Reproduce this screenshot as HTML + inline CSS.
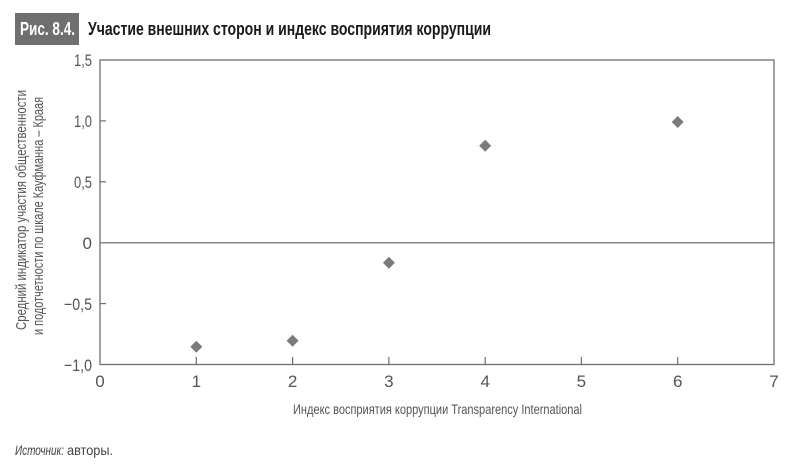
<!DOCTYPE html>
<html>
<head>
<meta charset="utf-8">
<style>
  html,body{margin:0;padding:0;background:#fff;}
  svg{display:block;}
  text{font-family:"Liberation Sans Narrow","Liberation Sans",sans-serif;}
</style>
</head>
<body>
<svg width="790" height="468" viewBox="0 0 790 468" xmlns="http://www.w3.org/2000/svg">
  <rect x="0" y="0" width="790" height="468" fill="#ffffff"/>

  <!-- Title -->
  <rect x="15" y="13" width="64" height="32" fill="#6f6f6f"/>
  <text x="20" y="35" font-size="18" font-weight="bold" fill="#ffffff" textLength="55" lengthAdjust="spacingAndGlyphs">Рис. 8.4.</text>
  <text x="88" y="35" font-size="18" font-weight="bold" fill="#1a1a1a" textLength="403" lengthAdjust="spacingAndGlyphs">Участие внешних сторон и индекс восприятия коррупции</text>

  <!-- Plot frame -->
  <rect x="100" y="60" width="674" height="304.5" fill="none" stroke="#6e6e6e" stroke-width="1.3"/>
  <!-- zero line -->
  <line x1="100" y1="242.7" x2="774" y2="242.7" stroke="#888888" stroke-width="1.5"/>

  <!-- y ticks -->
  <g stroke="#6e6e6e" stroke-width="1.2">
    <line x1="100" y1="120.9" x2="106" y2="120.9"/>
    <line x1="100" y1="181.8" x2="106" y2="181.8"/>
    <line x1="100" y1="303.6" x2="106" y2="303.6"/>
  </g>
  <!-- x ticks -->
  <g stroke="#6e6e6e" stroke-width="1.2">
    <line x1="196.3" y1="364.5" x2="196.3" y2="357"/>
    <line x1="292.6" y1="364.5" x2="292.6" y2="357"/>
    <line x1="388.9" y1="364.5" x2="388.9" y2="357"/>
    <line x1="485.2" y1="364.5" x2="485.2" y2="357"/>
    <line x1="581.4" y1="364.5" x2="581.4" y2="357"/>
    <line x1="677.7" y1="364.5" x2="677.7" y2="357"/>
  </g>

  <!-- y tick labels -->
  <g font-size="17" fill="#555555" text-anchor="end">
    <text x="92" y="66" textLength="18" lengthAdjust="spacingAndGlyphs">1,5</text>
    <text x="92" y="127" textLength="18" lengthAdjust="spacingAndGlyphs">1,0</text>
    <text x="92" y="188" textLength="18" lengthAdjust="spacingAndGlyphs">0,5</text>
    <text x="92" y="249">0</text>
    <text x="92" y="310" textLength="28" lengthAdjust="spacingAndGlyphs">−0,5</text>
    <text x="92" y="371" textLength="28" lengthAdjust="spacingAndGlyphs">−1,0</text>
  </g>

  <!-- x tick labels -->
  <g font-size="17" fill="#555555" text-anchor="middle">
    <text x="100" y="387">0</text>
    <text x="196.3" y="387">1</text>
    <text x="292.6" y="387">2</text>
    <text x="388.9" y="387">3</text>
    <text x="485.2" y="387">4</text>
    <text x="581.4" y="387">5</text>
    <text x="677.7" y="387">6</text>
    <text x="774" y="387">7</text>
  </g>

  <!-- x axis title -->
  <text x="293" y="414" font-size="14" fill="#555555" textLength="289" lengthAdjust="spacingAndGlyphs">Индекс восприятия коррупции Transparency International</text>

  <!-- y axis title -->
  <text transform="translate(26,330) rotate(-90)" x="0" y="0" font-size="15" fill="#555555" textLength="240" lengthAdjust="spacingAndGlyphs">Средний индикатор участия общественности</text>
  <text transform="translate(43,335) rotate(-90)" x="0" y="0" font-size="15" fill="#555555" textLength="238" lengthAdjust="spacingAndGlyphs">и подотчетности по шкале Кауфманна – Краая</text>

  <!-- data points (diamonds) -->
  <g fill="#7b7b7b">
    <polygon points="196.3,340.7 202.3,346.7 196.3,352.7 190.3,346.7"/>
    <polygon points="292.6,334.7 298.6,340.7 292.6,346.7 286.6,340.7"/>
    <polygon points="388.9,256.7 394.9,262.7 388.9,268.7 382.9,262.7"/>
    <polygon points="485.2,139.7 491.2,145.7 485.2,151.7 479.2,145.7"/>
    <polygon points="677.7,116 683.7,122 677.7,128 671.7,122"/>
  </g>

  <!-- source -->
  <text x="15" y="455" font-size="14" fill="#444444" font-style="italic" textLength="49" lengthAdjust="spacingAndGlyphs">Источник:</text>
  <text x="67" y="455" font-size="14" fill="#444444" textLength="46" lengthAdjust="spacingAndGlyphs">авторы.</text>
</svg>
</body>
</html>
